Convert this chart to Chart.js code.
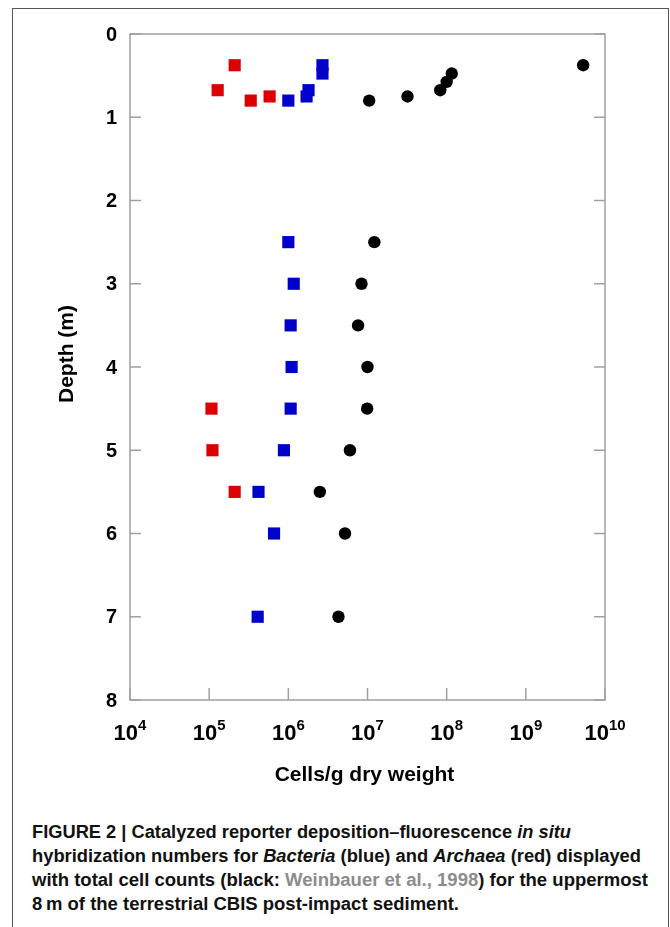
<!DOCTYPE html>
<html>
<head>
<meta charset="utf-8">
<script src="https://cdn.jsdelivr.net/npm/chart.js@4.4.0/dist/chart.umd.min.js"></script>
<style>
  body { margin: 0; background: #fff; width: 670px; height: 927px; overflow: hidden; position: relative; }
  #frame { position: absolute; left: 12px; top: 8px; width: 655px; height: 1000px; border: 1px solid #555; }
  #chart { position: absolute; left: 0; top: 0; }
  #caption { position: absolute; left: 32px; top: 820px; font-family: "Liberation Sans Narrow", "Liberation Sans", Arial, sans-serif;
             font-weight: bold; font-size: 17.5px; line-height: 24px; color: #111; }
  #caption .ln { white-space: nowrap; height: 24px; }
  #caption .ln span.in { display: inline-block; transform-origin: 0 0; }
  .ref { color: #8c8c8c; }
</style>
</head>
<body>
<div id="frame"></div>
<canvas id="chart" width="670" height="800"></canvas>
<div id="caption">
  <div class="ln"><span class="in">FIGURE 2 | Catalyzed reporter deposition–fluorescence <i>in situ</i></span></div>
  <div class="ln"><span class="in">hybridization numbers for <i>Bacteria</i> (blue) and <i>Archaea</i> (red) displayed</span></div>
  <div class="ln"><span class="in">with total cell counts (black: <span class="ref">Weinbauer et al., 1998</span>) for the uppermost</span></div>
  <div class="ln"><span class="in">8&#8201;m of the terrestrial CBIS post-impact sediment.</span></div>
</div>
<script>
// total cell counts (black)
const blackDepth = [0.375, 0.475, 0.575, 0.675, 0.75, 0.8, 2.5, 3, 3.5, 4, 4.5, 5, 5.5, 6, 7];
const blackCells = [5.3e9, 1.16e8, 1.0e8, 8.3e7, 3.2e7, 1.05e7, 1.22e7, 8.4e6, 7.6e6, 1.0e7, 9.9e6, 6.0e6, 2.5e6, 5.2e6, 4.3e6];
// Bacteria (blue)
const blueDepth = [0.375, 0.475, 0.675, 0.75, 0.8, 2.5, 3, 3.5, 4, 4.5, 5, 5.5, 6, 7];
const blueCells = [2.7e6, 2.7e6, 1.8e6, 1.7e6, 1.0e6, 1.0e6, 1.17e6, 1.07e6, 1.1e6, 1.07e6, 8.8e5, 4.2e5, 6.6e5, 4.1e5];
// Archaea (red)
const redDepth = [0.375, 0.675, 0.75, 0.8, 4.5, 5, 5.5];
const redCells = [2.1e5, 1.28e5, 5.8e5, 3.35e5, 1.07e5, 1.1e5, 2.1e5];

// axis ticks
const depthTicks = [0, 1, 2, 3, 4, 5, 6, 7, 8];
const depthLabels = ['0', '1', '2', '3', '4', '5', '6', '7', '8'];
const cellExponents = [4, 5, 6, 7, 8, 9, 10];
const xTitle = 'Cells/g dry weight';
const yTitle = 'Depth (m)';

function toPoints(xs, ys) {
    return xs.map((v, i) => ({ x: v, y: ys[i] }));
}

const FONT = '"Liberation Sans", Arial, sans-serif';

// box, inward ticks, labels and titles
const axesPlugin = {
    id: 'axesPlugin',
    beforeDatasetsDraw(chart) {
        const { ctx, chartArea: a, scales: { x, y } } = chart;
        ctx.save();
        ctx.strokeStyle = '#a0a0a0';
        ctx.lineWidth = 1.5;
        ctx.strokeRect(a.left, a.top, a.right - a.left, a.bottom - a.top);
        ctx.beginPath();
        depthTicks.forEach(d => {
            const py = y.getPixelForValue(d);
            ctx.moveTo(a.left, py); ctx.lineTo(a.left + 11, py);
            ctx.moveTo(a.right, py); ctx.lineTo(a.right - 11, py);
        });
        cellExponents.forEach(e => {
            const px = x.getPixelForValue(Math.pow(10, e));
            ctx.moveTo(px, a.bottom); ctx.lineTo(px, a.bottom - 12);
        });
        ctx.stroke();
        ctx.restore();
    },
    afterDraw(chart) {
        const { ctx, chartArea: a, scales: { x, y } } = chart;
        ctx.save();
        ctx.fillStyle = '#000';

        // depth labels
        ctx.font = 'bold 20px ' + FONT;
        ctx.textAlign = 'right';
        ctx.textBaseline = 'middle';
        depthTicks.forEach((d, i) => {
            ctx.fillText(depthLabels[i], 117, y.getPixelForValue(d) + 1);
        });

        // 10^n labels
        ctx.textAlign = 'left';
        ctx.textBaseline = 'alphabetic';
        cellExponents.forEach(e => {
            const px = x.getPixelForValue(Math.pow(10, e));
            ctx.font = 'bold 22px ' + FONT;
            const wBase = ctx.measureText('10').width;
            ctx.font = 'bold 15px ' + FONT;
            const wExp = ctx.measureText(String(e)).width;
            const left = px - (wBase + wExp) / 2;
            ctx.font = 'bold 22px ' + FONT;
            ctx.fillText('10', left, 740);
            ctx.font = 'bold 15px ' + FONT;
            ctx.fillText(String(e), left + wBase, 730);
        });

        // axis titles
        ctx.font = 'bold 21px ' + FONT;
        ctx.textAlign = 'center';
        ctx.fillText(xTitle, (a.left + a.right) / 2 - 3, 780.5);
        ctx.translate(73, 354);
        ctx.rotate(-Math.PI / 2);
        ctx.fillText(yTitle, 0, 0);
        ctx.restore();
    }
};

const ctx = document.getElementById('chart').getContext('2d');
const chart = new Chart(ctx, {
    type: 'scatter',
    data: {
        datasets: [
            {
                label: 'Total cell counts',
                data: toPoints(blackCells, blackDepth),
                pointStyle: 'circle',
                pointRadius: 6.2,
                backgroundColor: '#000',
                borderWidth: 0
            },
            {
                label: 'Bacteria',
                data: toPoints(blueCells, blueDepth),
                pointStyle: 'rect',
                pointRadius: 8.6,
                backgroundColor: '#0000cc',
                borderWidth: 0
            },
            {
                label: 'Archaea',
                data: toPoints(redCells, redDepth),
                pointStyle: 'rect',
                pointRadius: 8.6,
                backgroundColor: '#dd0000',
                borderWidth: 0
            }
        ]
    },
    options: {
        responsive: false,
        animation: false,
        devicePixelRatio: 1,
        layout: { padding: { left: 130, right: 65, top: 34, bottom: 100 } },
        plugins: { legend: { display: false }, tooltip: { enabled: false } },
        scales: {
            x: { type: 'logarithmic', min: 1e4, max: 1e10, display: false },
            y: { type: 'linear', min: 0, max: 8, reverse: true, display: false }
        }
    },
    plugins: [axesPlugin]
});

// fit caption lines to the widths in the figure
const lineWidths = [539, 609, 616, 427];
document.querySelectorAll('#caption .ln span.in').forEach((el, i) => {
    const w = el.getBoundingClientRect().width;
    el.style.transform = 'scaleX(' + (lineWidths[i] / w) + ')';
});
</script>
</body>
</html>
